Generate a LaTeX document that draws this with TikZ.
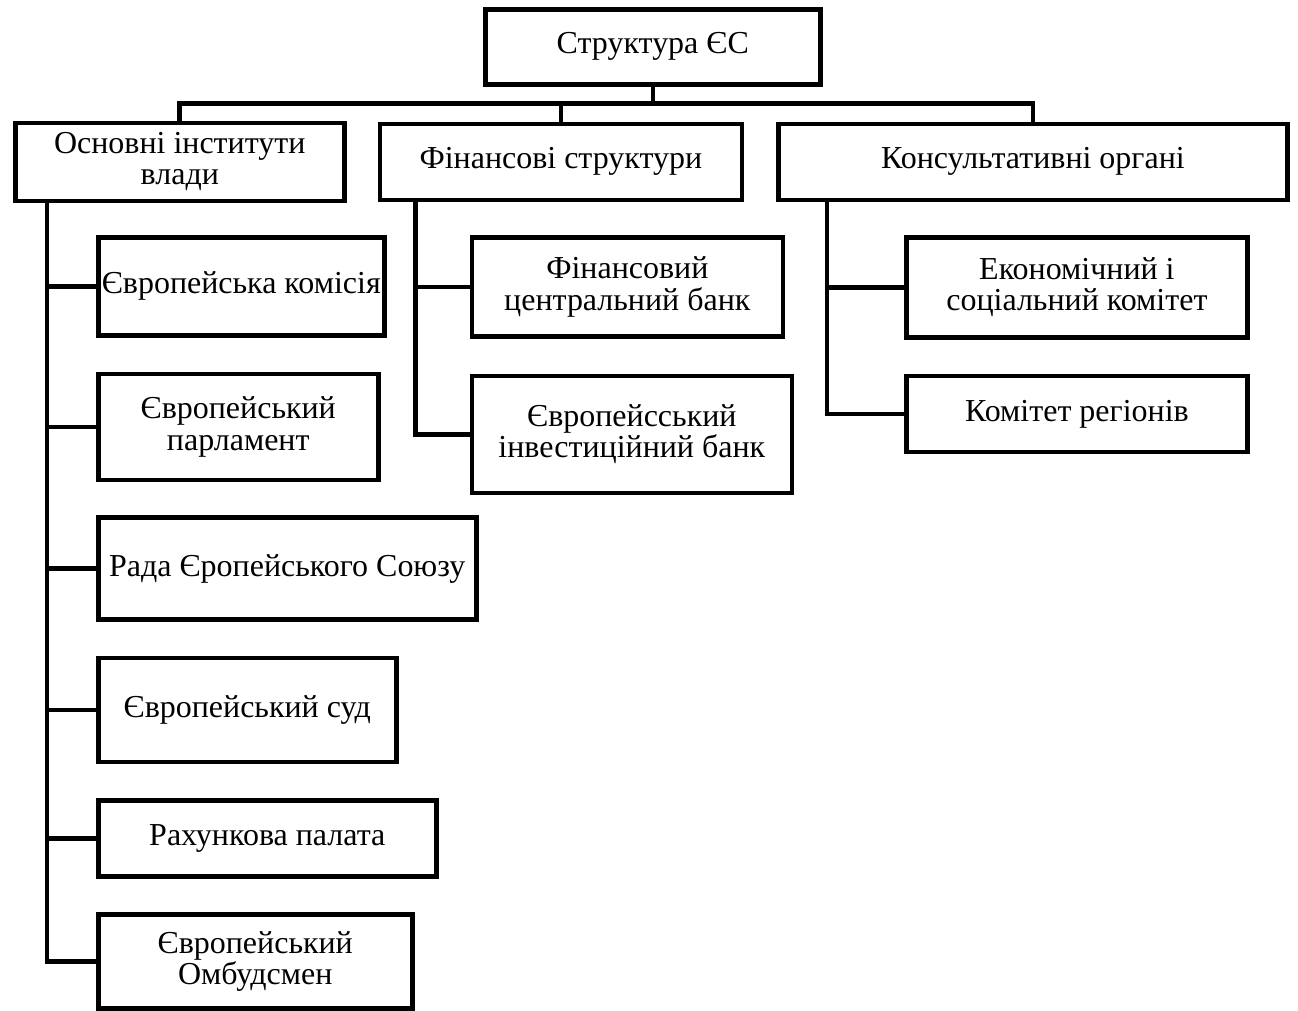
\documentclass[tikz,border=0pt]{standalone}
\usepackage{fontspec}
\setmainfont{Liberation Serif}
\usepackage{tikz}
\usetikzlibrary{positioning}

\begin{document}
\begin{tikzpicture}[
    orgbox/.style={draw, line width=2.6pt, inner sep=1pt, align=center,
        font=\fontsize{18.2}{17.8}\selectfont},
    link/.style={line width=2.6pt}
  ]
    \node [orgbox, minimum width=67.0mm, minimum height=15.0mm] (es) {Структура ЄС};

    \node [orgbox, below=6.8mm of es, xshift=-94.6mm, minimum width=65.8mm, minimum height=15.6mm] (inst) {Основні інститути\\влади};
    \node [orgbox, right=6.2mm of inst, minimum width=72.4mm, minimum height=15.2mm] (fin) {Фінансові структури};
    \node [orgbox, right=6.4mm of fin, minimum width=101.8mm, minimum height=15.2mm] (kons) {Консультативні органі};

    \node [orgbox, below right=6.4mm and 16.6mm of inst.south west, minimum width=57.2mm, minimum height=19.6mm] (e1) {Європейська комісія};
    \node [orgbox, below right=6.8mm and 0mm of e1.south west, minimum width=56.0mm, minimum height=21.2mm] (e2) {Європейський\\парламент};
    \node [orgbox, below right=6.6mm and 0mm of e2.south west, minimum width=75.6mm, minimum height=20.4mm] (e3) {Рада Єропейського Союзу};
    \node [orgbox, below right=6.8mm and 0mm of e3.south west, minimum width=59.6mm, minimum height=20.8mm] (e4) {Європейський суд};
    \node [orgbox, below right=6.8mm and 0mm of e4.south west, minimum width=67.6mm, minimum height=15.2mm] (e5) {Рахункова палата};
    \node [orgbox, below right=6.6mm and 0mm of e5.south west, minimum width=62.8mm, minimum height=18.8mm] (e6) {Європейський\\Омбудсмен};

    \node [orgbox, below right=6.6mm and 18.4mm of fin.south west, minimum width=62.2mm, minimum height=19.8mm] (b1) {Фінансовий\\центральний банк};
    \node [orgbox, below right=7.0mm and 0mm of b1.south west, minimum width=64.0mm, minimum height=23.4mm] (b2) {Європейсський\\інвестиційний банк};

    \node [orgbox, below right=6.6mm and 25.6mm of kons.south west, minimum width=68.2mm, minimum height=20.0mm] (k1) {Економічний і\\соціальний комітет};
    \node [orgbox, below right=6.8mm and 0mm of k1.south west, minimum width=68.2mm, minimum height=15.2mm] (k2) {Комітет регіонів};

    \coordinate [below=3.4mm of es.south] (esbus);
    \coordinate [right=6.8mm of inst.south west] (instbus);
    \coordinate [right=7.6mm of fin.south west] (finbus);
    \coordinate [right=10.2mm of kons.south west] (konsbus);

    \draw [link] (es.south) -- (esbus);
    \draw [link] (inst.north) |- (esbus) -| (kons.north);
    \draw [link] (fin.north) -- (fin.north |- esbus);

    \draw [link] (instbus) |- (e6.west);
    \foreach \n in {e1,e2,e3,e4,e5}
        \draw [link] (instbus |- \n.west) -- (\n.west);

    \draw [link] (finbus) |- (b2.west);
    \draw [link] (finbus |- b1.west) -- (b1.west);

    \draw [link] (konsbus) |- (k2.west);
    \draw [link] (konsbus |- k1.west) -- (k1.west);

    \useasboundingbox ([xshift=-96.6mm, yshift=1.4mm]es.north west) rectangle ++(259.6mm,-202mm);
  \end{tikzpicture}
\end{document}
